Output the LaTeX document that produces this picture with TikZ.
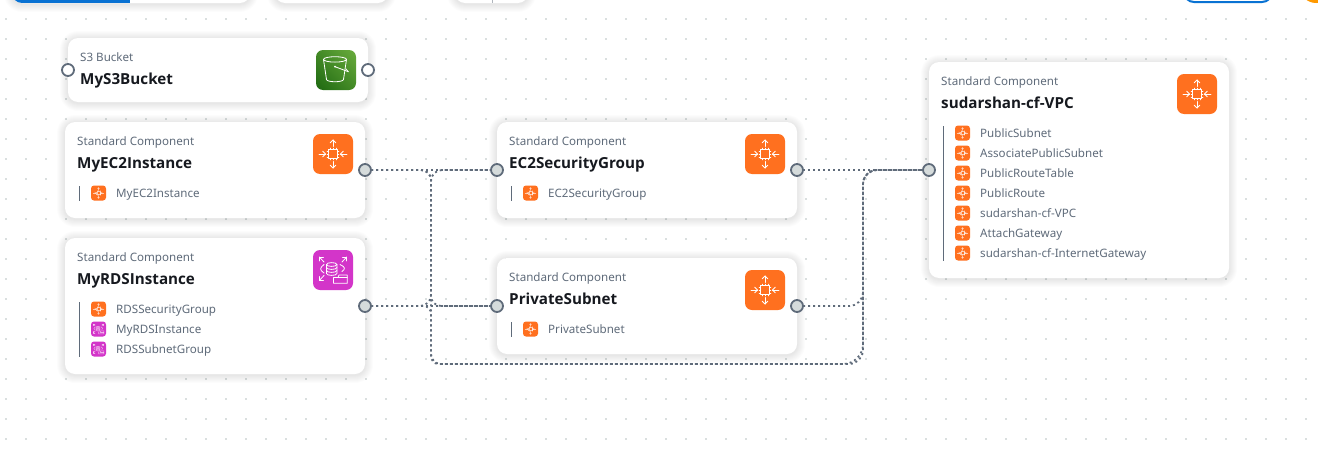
\documentclass[tikz,border=0pt]{standalone}
\usepackage{fontspec}
\setmainfont{Noto Sans}
\newfontfamily\titlefam{Open Sans}
\definecolor{cgrey}{HTML}{5F6B7A}
\definecolor{ctitle}{HTML}{16191F}
\definecolor{corange}{HTML}{FF701F}
\definecolor{cmag}{HTML}{D335C9}
\definecolor{cport}{HTML}{D5DBDB}
\definecolor{cdot}{HTML}{DADFDF}
\definecolor{cblue}{HTML}{0972D3}
\definecolor{s3top}{HTML}{6CAE3E}
\definecolor{s3bot}{HTML}{1B660F}
\definecolor{camber}{HTML}{FF9900}
\tikzset{
  cardbox/.style={anchor=north west,fill=white,rounded corners=10pt,inner sep=0pt,outer sep=0pt},
  subtxt/.style={anchor=base west,inner sep=0pt,font=\fontsize{11.6}{14}\selectfont,text=cgrey},
  titletxt/.style={anchor=base west,inner sep=0pt,font=\titlefam\bfseries\fontsize{15.2}{18}\selectfont,text=ctitle},
  itemtxt/.style={anchor=base west,inner sep=0pt,font=\fontsize{11.6}{14}\selectfont,text=cgrey},
  bigicon/.style={minimum size=40pt,rounded corners=7pt,inner sep=0pt,outer sep=0pt},
  smallicon/.style={minimum size=15pt,rounded corners=3pt,inner sep=0pt,outer sep=0pt},
  portin/.style={circle,draw=cgrey,line width=1.8pt,fill=white,minimum size=12pt,inner sep=0pt,outer sep=0pt},
  portact/.style={circle,draw=cgrey,line width=1.8pt,fill=cport,minimum size=12pt,inner sep=0pt,outer sep=0pt},
  link/.style={draw=cgrey,line width=1.8pt,dash pattern=on 2pt off 3pt,rounded corners=#1},
  link/.default=10pt,
  glyph/.style={draw=white,fill=none,line cap=round,line join=round},
  barline/.style={draw=cgrey,line width=1pt},
}
\newcommand{\softshadow}[4]{%
  \foreach \i in {1,...,8}{%
    \fill[black,opacity=.01,rounded corners={10pt+\i pt}]
      ({#1-\i},{#2-\i+1}) rectangle ({#3+\i},{#4+\i+1});}}
\newcommand{\chipglyph}[4]{% x y scale width
  \begin{scope}[shift={(#1,#2)},scale=#3,glyph,line width=#4]
    \draw (-4.4,-4.4) rectangle (4.4,4.4);
    \foreach \t in {-3.2,0,3.2}{
      \draw[line width=.6*#4] (\t,-4.4)--(\t,-6); \draw[line width=.6*#4] (\t,4.4)--(\t,6);
      \draw[line width=.6*#4] (-4.4,\t)--(-6,\t); \draw[line width=.6*#4] (4.4,\t)--(6,\t);}
    \draw (0,-7.5)--(0,-14); \draw (-2.8,-11.2)--(0,-14)--(2.8,-11.2);
    \draw (0,7.5)--(0,14); \draw (-2.8,11.2)--(0,14)--(2.8,11.2);
    \draw (-14,0)--(-7.5,0); \draw (-10.3,-2.8)--(-7.5,0)--(-10.3,2.8);
    \draw (14,0)--(7.5,0); \draw (10.3,-2.8)--(7.5,0)--(10.3,2.8);
  \end{scope}}
\newcommand{\rdsglyph}[4]{%
  \begin{scope}[shift={(#1,#2)},scale=#3,glyph,line width=#4]
    \draw (-6.5,-5.5) -- (-6.5,3.5) .. controls (-6.5,6) and (3.9,6) .. (3.9,3.5) -- (3.9,-5.5);
    \draw (-6.5,-5.5) .. controls (-6.5,-8) and (3.9,-8) .. (3.9,-5.5) .. controls (3.9,-3) and (-6.5,-3) .. (-6.5,-5.5);
    \draw (-6.5,-2.5) .. controls (-6.5,0) and (3.9,0) .. (3.9,-2.5);
    \draw (-6.5,.5) .. controls (-6.5,3) and (3.9,3) .. (3.9,.5);
    \draw (-9,-5.5) .. controls (-13.5,-2) and (-13.5,0) .. (-9,3);
    \draw (7,-5.5) .. controls (12.5,-3) and (12.5,-1) .. (9,1.5);
    \draw (-9,-8)--(-13.7,-13); \draw (-13.7,-9)--(-13.7,-13)--(-9.5,-13);
    \draw (9,-8)--(13.7,-13); \draw (13.7,-9)--(13.7,-13)--(9.5,-13);
    \draw (-9,5.5)--(-13.7,10.5); \draw (-13.7,6.5)--(-13.7,10.5)--(-9.5,10.5);
    \draw (.5,13.3)--(.5,7.5)--(5,7.5)--(6,5)--(14.3,5)--(14.3,13.3)--cycle;
    \draw (5,7.5)--(14.3,7.5);
  \end{scope}}
\newcommand{\stditem}[4]{% name x ycenter text
  \node[smallicon,fill=corange] (#1i) at (#2+7.5,#3) {};
  \begin{scope}[opacity=.6]\chipglyph{#2+7.5}{#3}{.375}{.55pt}\end{scope}
  \node[itemtxt] (#1t) at (#2+25,#3+4) {#4};}
\newcommand{\rdsitem}[4]{%
  \node[smallicon,fill=cmag] (#1i) at (#2+7.5,#3) {};
  \begin{scope}[opacity=.6]\rdsglyph{#2+7.5}{#3}{.375}{.5pt}\end{scope}
  \node[itemtxt] (#1t) at (#2+25,#3+4) {#4};}
\begin{document}
\begin{tikzpicture}[x=1pt,y=-1pt]
\useasboundingbox (0,0) rectangle (1318,450);
\clip (0,0) rectangle (1318,450);
\fill[white] (0,0) rectangle (1318,450);
% dotted canvas
\foreach \gx in {6,26,...,1306}{\foreach \gy in {19,39,...,439}{\fill[cdot] (\gx-1,\gy-1) rectangle (\gx+1,\gy+1);}}
% toolbar fragments
\softshadow{12}{-30}{250}{3}
\node[cardbox,minimum width=238pt,minimum height=33pt] (tb1) at (12,-30) {};
\begin{scope}
  \clip[rounded corners=10pt] (12,-30) rectangle (250,3);
  \fill[cblue] (12,-30) rectangle (130,3);
\end{scope}
\softshadow{275}{-30}{388}{3}
\node[cardbox,minimum width=113pt,minimum height=33pt] (tb2) at (275,-30) {};
\softshadow{455}{-30}{528}{3}
\node[cardbox,minimum width=73pt,minimum height=33pt] (tb3) at (455,-30) {};
\fill[cgrey!50!white] (491.5,-5) rectangle (493,3);
\node[draw=cblue,line width=2pt,fill=white,rounded corners=10pt,minimum width=88pt,minimum height=31pt,inner sep=0pt,outer sep=0pt,anchor=north west] (tb4) at (1184,-29) {};
\node[circle,fill=camber,minimum size=32pt,inner sep=0pt] (tb5) at (1316,-13) {};
% cards
\softshadow{68}{38}{368}{102}
\softshadow{65}{122}{365}{218}
\softshadow{65}{238}{365}{374}
\softshadow{497}{122}{797}{218}
\softshadow{497}{258}{797}{354}
\softshadow{929}{62}{1229}{278}
\node[cardbox,minimum width=300pt,minimum height=64pt] (s3) at (68,38) {};
\node[cardbox,minimum width=300pt,minimum height=96pt] (ec2) at (65,122) {};
\node[cardbox,minimum width=300pt,minimum height=136pt] (rds) at (65,238) {};
\node[cardbox,minimum width=300pt,minimum height=96pt] (sg) at (497,122) {};
\node[cardbox,minimum width=300pt,minimum height=96pt] (ps) at (497,258) {};
\node[cardbox,minimum width=300pt,minimum height=216pt] (vpc) at (929,62) {};
% headings
\node[subtxt] (s3s) at (80,61) {S3 Bucket};
\node[titletxt] (s3n) at (80,84) {MyS3Bucket};
\node[subtxt] (ec2s) at (77,145) {Standard Component};
\node[titletxt] (ec2n) at (77,168) {MyEC2Instance};
\node[subtxt] (rdss) at (77,261) {Standard Component};
\node[titletxt] (rdsn) at (77,284) {MyRDSInstance};
\node[subtxt] (sgs) at (509,145) {Standard Component};
\node[titletxt] (sgn) at (509,168) {EC2SecurityGroup};
\node[subtxt] (pss) at (509,281) {Standard Component};
\node[titletxt] (psn) at (509,304) {PrivateSubnet};
\node[subtxt] (vpcs) at (941,85) {Standard Component};
\node[titletxt] (vpcn) at (941,108) {sudarshan-cf-VPC};
% large icons
\begin{scope}
  \clip[rounded corners=7pt] (316,50) rectangle (356,90);
  \shade[top color=s3top,bottom color=s3bot,shading angle=-45] (306,40) rectangle (366,100);
\end{scope}
\node[bigicon] (s3ic) at (336,70) {};
\begin{scope}[shift={(336,70)},glyph,line width=.8pt]
  \draw (-1,-10.6) ellipse[x radius=11.5,y radius=2.7];
  \draw (-12.5,-10.6) -- (-9.5,9.5) .. controls (-9,12.5) and (7,12.5) .. (7.5,9.5) -- (10.5,-10.6);
  \draw (-1,-3.3) -- (12.3,1.7);
  \fill[white] (-1,-3.3) circle (1);
  \draw (12.3,1.7) -- (10,-1);
\end{scope}
\node[bigicon,fill=corange] (ec2ic) at (333,154) {};
\chipglyph{333}{154}{1}{.8pt}
\node[bigicon,fill=cmag] (rdsic) at (333,270) {};
\rdsglyph{333}{270}{1}{.8pt}
\node[bigicon,fill=corange] (sgic) at (765,154) {};
\chipglyph{765}{154}{1}{.8pt}
\node[bigicon,fill=corange] (psic) at (765,290) {};
\chipglyph{765}{290}{1}{.8pt}
\node[bigicon,fill=corange] (vpcic) at (1197,94) {};
\chipglyph{1197}{94}{1}{.8pt}
% list rules
\draw[barline] (79,186) -- (79,201);
\draw[barline] (79,302) -- (79,357);
\draw[barline] (511,186) -- (511,201);
\draw[barline] (511,322) -- (511,337);
\draw[barline] (943,126) -- (943,261);
% list items
\stditem{a}{91}{193}{MyEC2Instance}
\stditem{b}{91}{309}{RDSSecurityGroup}
\rdsitem{c}{91}{329}{MyRDSInstance}
\rdsitem{d}{91}{349}{RDSSubnetGroup}
\stditem{e}{523}{193}{EC2SecurityGroup}
\stditem{f}{523}{329}{PrivateSubnet}
\stditem{g}{955}{133}{PublicSubnet}
\stditem{h}{955}{153}{AssociatePublicSubnet}
\stditem{k}{955}{173}{PublicRouteTable}
\stditem{l}{955}{193}{PublicRoute}
\stditem{m}{955}{213}{sudarshan-cf-VPC}
\stditem{n}{955}{233}{AttachGateway}
\stditem{o}{955}{253}{sudarshan-cf-InternetGateway}
% ports
\node[portin] (s3l) at (68,70) {};
\node[portin] (s3r) at (368,70) {};
\node[portact] (ec2p) at (365,170) {};
\node[portact] (rdsp) at (365,306) {};
\node[portact] (sgl) at (497,170) {};
\node[portact] (sgr) at (797,170) {};
\node[portact] (psl) at (497,306) {};
\node[portact] (psr) at (797,306) {};
\node[portact] (vpcl) at (929,170) {};
% connectors
\draw[link] (ec2p.east) -- (sgl.west);
\draw[link] (rdsp.east) -- (psl.west);
\draw[link] (sgr.east) -- (vpcl.west);
\draw[link=10pt] (ec2p.east) -- (431,170) -- (431,306) [rounded corners=15.6pt] -- (psl.west);
\draw[link=11pt] (rdsp.east) -- (431,306) -- (431,170) [rounded corners=14.6pt] -- (sgl.west);
\draw[link=14pt] (psr.east) -- (863,306) -- (863,170) -- (vpcl.west);
\draw[link=10pt] (ec2p.east) -- (431,170) -- (431,364) [rounded corners=14pt] -- (863,364) -- (863,170) -- (vpcl.west);
\draw[link=7.7pt] (rdsp.east) -- (431,306) -- (431,364) [rounded corners=20pt] -- (863,364) [rounded corners=14pt] -- (863,170) -- (vpcl.west);
\end{tikzpicture}
\end{document}
